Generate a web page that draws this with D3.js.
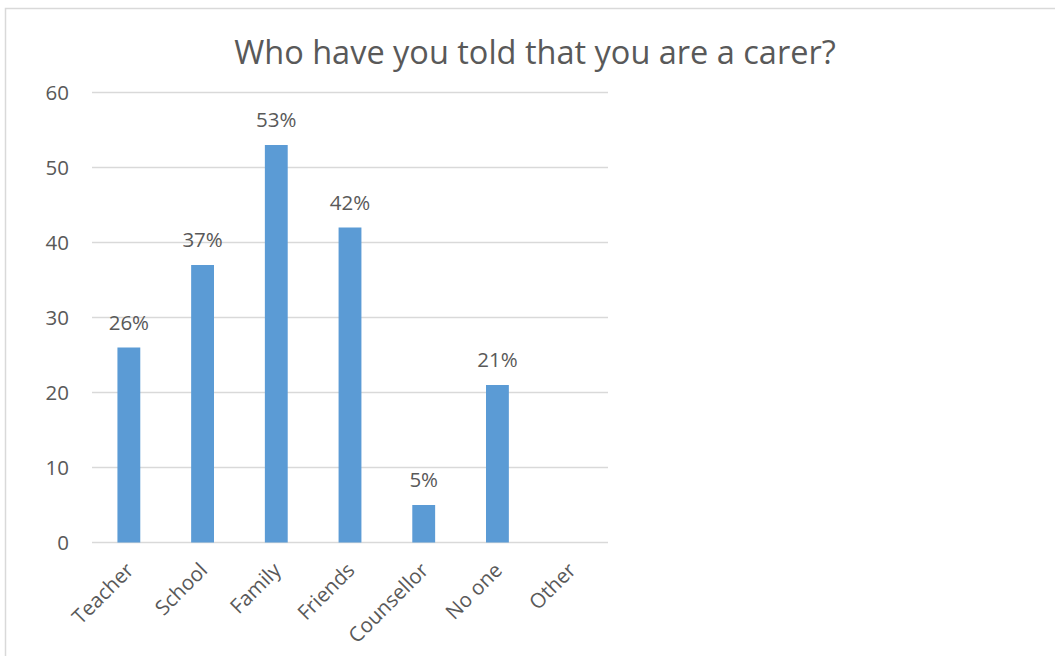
<!DOCTYPE html>
<html>
<head>
<meta charset="utf-8">
<script src="https://cdn.jsdelivr.net/npm/d3@7"></script>
<style>
  body { margin: 0; background: #fff; }
  svg text { font-family: "Open Sans", "Noto Sans", sans-serif; fill: #595959; }
</style>
</head>
<body>
<div id="visualization"></div>
<script>
// chart data
var categories = ["Teacher", "School", "Family", "Friends", "Counsellor", "No one", "Other"];
var values = [26, 37, 53, 42, 5, 21, 0];
var valueLabels = ["26%", "37%", "53%", "42%", "5%", "21%", ""];
var yTicks = [0, 10, 20, 30, 40, 50, 60];
var chartTitle = "Who have you told that you are a carer?";

var W = 1055, H = 656;
var margin = {top: 92.5, left: 92, right: 447, bottom: 113.5};
var width = W - margin.left - margin.right,
    height = H - margin.top - margin.bottom;

var svg = d3.select("#visualization").append("svg")
    .attr("width", W)
    .attr("height", H);

// outer chart border
svg.append("rect")
    .attr("x", 5.5).attr("y", 8.5)
    .attr("width", W + 20).attr("height", H + 20)
    .attr("fill", "none")
    .attr("stroke", "#d9d9d9")
    .attr("stroke-width", 1.5);

svg.append("text")
    .attr("x", 535).attr("y", 64)
    .attr("text-anchor", "middle")
    .style("font-size", "32.5px")
    .text(chartTitle);

var g = svg.append("g")
    .attr("transform", "translate(" + margin.left + "," + margin.top + ")");

var x = d3.scaleBand()
    .domain(categories)
    .range([0, width])
    .paddingInner(0.69)
    .paddingOuter(0.345);
var y = d3.scaleLinear()
    .domain([0, 60])
    .range([height, 0]);

// gridlines
g.selectAll(".grid")
    .data(yTicks)
    .enter().append("line")
    .attr("x1", 0).attr("x2", width)
    .attr("y1", function(d) { return y(d); })
    .attr("y2", function(d) { return y(d); })
    .attr("stroke", "#d9d9d9")
    .attr("stroke-width", 1.5);

// y axis labels
var yAxis = g.append("g")
    .call(d3.axisLeft(y).tickValues(yTicks).tickSize(0).tickPadding(23));
yAxis.select(".domain").remove();
yAxis.selectAll("text")
    .style("font-size", "20.5px")
    .attr("fill", "#595959");

// bars
var data = categories.map(function(c, i) {
    return {name: c, value: values[i], label: valueLabels[i]};
});
g.selectAll(".bar")
    .data(data)
    .enter().append("rect")
    .attr("class", "bar")
    .attr("x", function(d) { return x(d.name); })
    .attr("width", x.bandwidth())
    .attr("y", function(d) { return y(d.value); })
    .attr("height", function(d) { return height - y(d.value); })
    .attr("fill", "#5b9bd5");

// value labels
g.selectAll(".lbl")
    .data(data)
    .enter().append("text")
    .attr("class", "lbl")
    .attr("x", function(d) { return x(d.name) + x.bandwidth() / 2; })
    .attr("y", function(d) { return y(d.value) - 18; })
    .attr("text-anchor", "middle")
    .style("font-size", "20.5px")
    .text(function(d) { return d.label; });

// x axis labels, rotated
var xAxis = g.append("g")
    .attr("transform", "translate(0," + height + ")")
    .call(d3.axisBottom(x).tickSize(0).tickPadding(0));
xAxis.select(".domain").remove();
xAxis.selectAll("text")
    .style("font-size", "20.5px")
    .attr("fill", "#595959")
    .attr("text-anchor", "end")
    .attr("dy", null)
    .attr("y", 0)
    .attr("transform", "translate(6,29) rotate(-45)");
</script>
</body>
</html>
